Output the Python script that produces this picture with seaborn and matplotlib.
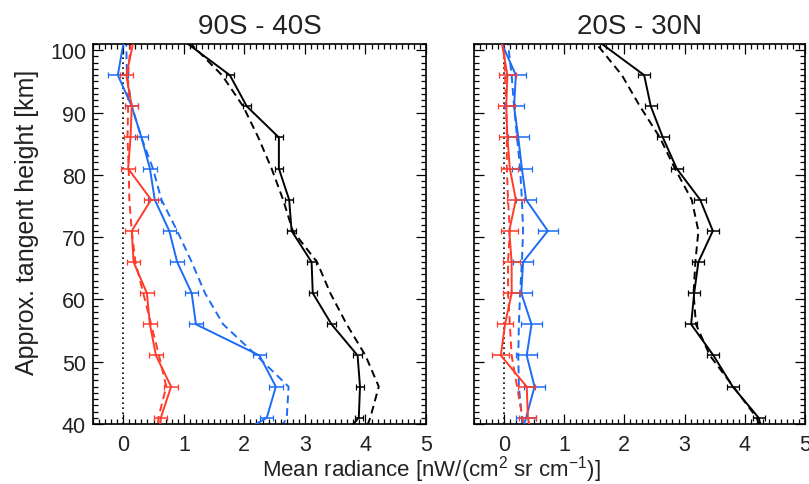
import numpy as np
import pandas as pd
import matplotlib
matplotlib.use("Agg")
import matplotlib.pyplot as plt
import seaborn as sns
from matplotlib.ticker import MultipleLocator

# ---------------- data ----------------
heights = [36, 41, 46, 51, 56, 61, 66, 71, 76, 81, 86, 91, 96, 101]

# 90S - 40S
s_black_solid = [3.44, 3.89, 3.91, 3.87, 3.44, 3.13, 3.11, 2.78, 2.74, 2.57, 2.57, 2.04, 1.76, 1.07]
s_black_dash  = [3.88, 4.08, 4.22, 4.00, 3.69, 3.42, 3.20, 2.80, 2.64, 2.45, 2.23, 1.98, 1.63, 1.12]
s_blue_solid  = [1.50, 2.37, 2.52, 2.25, 1.20, 1.13, 0.89, 0.76, 0.52, 0.44, 0.30, 0.14, -0.09, 0.00]
s_blue_dash   = [2.40, 2.70, 2.73, 2.20, 1.65, 1.35, 1.13, 0.89, 0.63, 0.49, 0.30, 0.14, 0.06, 0.05]
s_red_solid   = [0.57, 0.62, 0.79, 0.54, 0.44, 0.39, 0.17, 0.14, 0.46, 0.08, 0.12, 0.14, 0.05, 0.16]
s_red_dash    = [0.55, 0.58, 0.71, 0.59, 0.46, 0.33, 0.20, 0.14, 0.10, 0.09, 0.07, 0.08, 0.08, 0.12]
s_black_err = [0.07] * 12
s_blue_err  = [0.11, 0.11, 0.11, 0.11, 0.11, 0.11, 0.11, 0.11, 0.11, 0.11, 0.11, 0.16]
s_red_err   = [0.11] * 12

# 20S - 30N
t_black_solid = [4.38, 4.23, 3.80, 3.48, 3.11, 3.16, 3.23, 3.47, 3.26, 2.87, 2.64, 2.44, 2.33, 1.63]
t_black_dash  = [4.35, 4.20, 3.81, 3.42, 3.19, 3.15, 3.18, 3.23, 3.12, 2.84, 2.59, 2.26, 1.96, 1.54]
t_blue_solid  = [0.20, 0.37, 0.51, 0.38, 0.46, 0.29, 0.32, 0.73, 0.37, 0.30, 0.24, 0.17, 0.20, -0.03]
t_blue_dash   = [0.32, 0.30, 0.25, 0.24, 0.25, 0.27, 0.30, 0.32, 0.30, 0.27, 0.22, 0.17, 0.13, 0.07]
t_red_solid   = [0.50, 0.40, 0.38, -0.05, 0.02, 0.13, 0.13, 0.09, 0.20, 0.10, 0.06, 0.04, 0.06, -0.03]
t_red_dash    = [0.40, 0.31, 0.22, 0.13, 0.10, 0.07, 0.07, 0.10, 0.07, 0.05, 0.05, 0.04, 0.02, 0.00]
t_black_err = [0.10] * 12
t_blue_err  = [0.17] * 12
t_red_err   = [0.14] * 12

titles = ["90S - 40S", "20S - 30N"]
xticks = [0, 1, 2, 3, 4, 5]
yticks = [40, 50, 60, 70, 80, 90, 100]

# ---------------- style ----------------
sns.set_style("ticks")
plt.rcParams["font.family"] = ["Liberation Sans", "DejaVu Sans"]
plt.rcParams["mathtext.default"] = "regular"

RED = "#ff3b2b"
BLUE = "#1c6cf5"
BLACK = "#000000"
TXT = "#222222"

fig = plt.figure(figsize=(8.09, 4.85), dpi=100)
axL = fig.add_axes([93 / 809, 60 / 485, 333 / 809, 380 / 485])
axR = fig.add_axes([473.7 / 809, 60 / 485, 331.3 / 809, 380 / 485])

panels = [
    (axL, [(s_black_solid, s_black_dash, s_black_err, BLACK),
           (s_blue_solid, s_blue_dash, s_blue_err, BLUE),
           (s_red_solid, s_red_dash, s_red_err, RED)]),
    (axR, [(t_black_solid, t_black_dash, t_black_err, BLACK),
           (t_blue_solid, t_blue_dash, t_blue_err, BLUE),
           (t_red_solid, t_red_dash, t_red_err, RED)]),
]

for i, (ax, series) in enumerate(panels):
    ax.axvline(0, color="black", lw=1.2, ls=(0, (1, 2)), zorder=1)
    for solid, dash, err, col in series:
        df = pd.DataFrame({"h": heights, "solid": solid, "dash": dash})
        sns.lineplot(data=df, x="dash", y="h", orient="y", sort=False, estimator=None,
                     ax=ax, color=col, lw=1.4, linestyle=(0, (4, 2.5)), zorder=2)
        sns.lineplot(data=df, x="solid", y="h", orient="y", sort=False, estimator=None,
                     ax=ax, color=col, lw=1.4, zorder=3)
        ax.errorbar(solid[1:-1], heights[1:-1], xerr=err, fmt="none", ecolor=col,
                    elinewidth=1.1, capsize=2.0, capthick=0.9, zorder=3)
    ax.set_xlim(-0.5, 5)
    ax.set_ylim(40, 101)
    ax.set_xticks(xticks)
    ax.set_yticks(yticks)
    ax.xaxis.set_minor_locator(MultipleLocator(0.1))
    ax.yaxis.set_minor_locator(MultipleLocator(1))
    ax.tick_params(which="both", direction="in", top=True, right=True, colors="black",
                   labelsize=15.5, width=0.9)
    ax.tick_params(which="major", length=7)
    ax.tick_params(axis="x", which="major", pad=7)
    ax.tick_params(axis="y", which="major", pad=5)
    ax.tick_params(which="minor", length=3.5)
    for sp in ax.spines.values():
        sp.set_visible(True)
        sp.set_linewidth(1.2)
        sp.set_color("black")
    ax.set_xlabel("")
    ax.set_ylabel("")
    ax.set_title(titles[i], fontsize=20, pad=8, color=TXT)
    for lab in ax.get_xticklabels() + ax.get_yticklabels():
        lab.set_color(TXT)

axR.set_yticklabels([])
fig.text(27 / 809, 1 - 222 / 485, "Approx. tangent height [km]", rotation=90,
         ha="center", va="center", fontsize=18, color=TXT)
fig.text(431 / 809, 1 - 470 / 485, r"Mean radiance [nW/(cm$^2$ sr cm$^{-1}$)]",
         ha="center", va="center", fontsize=16, color=TXT)

fig.savefig("out.png", dpi=100)
